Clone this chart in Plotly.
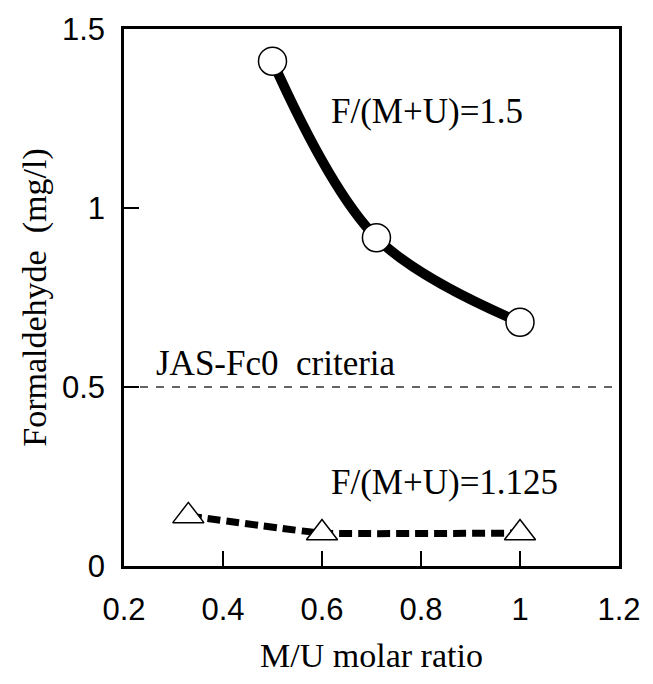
import plotly.graph_objects as go

# Data
mu_high = [0.5, 0.71, 1.0]
hcho_high = [1.41, 0.917, 0.681]
mu_low = [0.33, 0.6, 1.0]
hcho_low = [0.14, 0.092, 0.092]
criteria_x = [0.2, 1.2]
criteria_y = [0.5, 0.5]
x_ticks = [0.2, 0.4, 0.6, 0.8, 1.0, 1.2]
x_tick_text = ["0.2", "0.4", "0.6", "0.8", "1", "1.2"]
y_ticks = [0, 0.5, 1.0, 1.5]
y_tick_text = ["0", "0.5", "1", "1.5"]

serif = "Liberation Serif, Times New Roman, serif"
sans = "Liberation Sans, Arial, sans-serif"

fig = go.Figure()

fig.add_trace(go.Scatter(
    x=criteria_x, y=criteria_y, mode="lines",
    line=dict(color="#333", width=1.5, dash="8px,8px"),
    showlegend=False, hoverinfo="skip"))

fig.add_trace(go.Scatter(
    x=mu_low, y=hcho_low, mode="lines",
    line=dict(color="black", width=7, dash="13px,6px", shape="spline", smoothing=0.3),
    showlegend=False))
fig.add_trace(go.Scatter(
    x=mu_high, y=hcho_high, mode="lines",
    line=dict(color="black", width=10, shape="spline", smoothing=1.0),
    showlegend=False))

fig.add_trace(go.Scatter(
    x=mu_low, y=hcho_low, mode="markers",
    marker=dict(symbol="triangle-up", size=27, color="white",
                line=dict(color="black", width=1.5)),
    showlegend=False))
fig.add_trace(go.Scatter(
    x=mu_high, y=hcho_high, mode="markers",
    marker=dict(symbol="circle", size=28, color="white",
                line=dict(color="black", width=1.5)),
    showlegend=False))

ann_font = dict(family=serif, size=35, color="black")
fig.add_annotation(x=0.614, y=1.27, text="F/(M+U)=1.5", showarrow=False,
                   xanchor="left", yanchor="middle", font=ann_font)
fig.add_annotation(x=0.26, y=0.567, text="JAS-Fc0  criteria", showarrow=False,
                   xanchor="left", yanchor="middle", font=ann_font)
fig.add_annotation(x=0.614, y=0.232, text="F/(M+U)=1.125", showarrow=False,
                   xanchor="left", yanchor="middle", font=ann_font)

fig.update_layout(
    width=653, height=684,
    margin=dict(l=124, r=31, t=24, b=118),
    paper_bgcolor="white", plot_bgcolor="white",
    xaxis=dict(range=[0.2, 1.2], tickvals=x_ticks, ticktext=x_tick_text,
               ticks="inside", ticklen=15, tickwidth=1.5, tickcolor="black",
               showline=True, linecolor="black", linewidth=2.5, mirror=True,
               showgrid=False, zeroline=False, ticklabelstandoff=14,
               tickfont=dict(family=sans, size=31, color="black"),
               title=dict(text="M/U molar ratio", standoff=18,
                          font=dict(family=serif, size=34, color="black"))),
    yaxis=dict(range=[0, 1.5], tickvals=y_ticks, ticktext=y_tick_text,
               ticks="inside", ticklen=15, tickwidth=1.5, tickcolor="black",
               showline=True, linecolor="black", linewidth=2.5, mirror=True,
               showgrid=False, zeroline=False, ticklabelstandoff=10,
               tickfont=dict(family=sans, size=31, color="black"),
               title=dict(text="Formaldehyde  (mg/l)", standoff=6,
                          font=dict(family=serif, size=34, color="black"))),
)

fig.write_html("out.html")
